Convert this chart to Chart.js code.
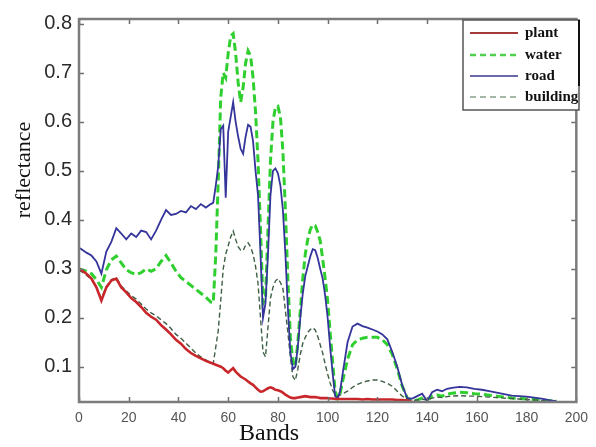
<!DOCTYPE html>
<html>
<head>
<meta charset="utf-8">
<script src="https://cdn.jsdelivr.net/npm/chart.js@4/dist/chart.umd.min.js"></script>
<style>
  html, body { margin: 0; padding: 0; background: #ffffff; }
  #wrap { position: relative; width: 596px; height: 447px; }
</style>
</head>
<body>
<div id="wrap"><canvas id="c" width="596" height="447"></canvas></div>
<script>
// Spectral band indices at which the reflectance curves are sampled
const bands = [
  0, 1, 3, 5, 7, 9, 11, 13, 15, 17, 19, 21, 23, 25, 27, 29, 31, 33, 35, 37, 39, 41, 43, 45, 47, 49, 51, 53,
  54, 55, 56, 57, 58, 59, 60, 61, 62, 63,
  64, 65, 66, 67, 68, 69, 70, 71, 72, 73,
  74, 75, 76, 77, 78, 79, 80, 81, 82, 83,
  84, 85, 86, 87, 88, 89, 90, 91, 92, 93,
  94, 95, 96, 97, 98, 99, 100, 101, 102, 103,
  104, 105, 106,
  108, 110, 112, 114, 116, 118, 120, 122, 124, 126, 128, 130, 132, 134, 136, 138, 140, 142, 144, 146, 148, 150,
  153, 156, 159, 162, 165, 168, 171, 174, 177, 180, 183, 186, 189, 192
];

const plant = [
  0.300, 0.297, 0.290, 0.280, 0.262, 0.235, 0.262, 0.276, 0.280, 0.262, 0.252, 0.240, 0.232, 0.222,
  0.210, 0.202, 0.196, 0.185, 0.176, 0.166, 0.155, 0.147, 0.136, 0.128, 0.122, 0.117, 0.112, 0.108,
  0.106, 0.104, 0.102, 0.100, 0.097, 0.092, 0.088, 0.093, 0.097, 0.090,
  0.085, 0.080, 0.077, 0.074, 0.070, 0.066, 0.063, 0.058, 0.053, 0.049,
  0.050, 0.053, 0.056, 0.058, 0.056, 0.053, 0.052, 0.050, 0.047, 0.043,
  0.040, 0.037, 0.036, 0.036, 0.037, 0.038, 0.039, 0.040, 0.039, 0.038,
  0.038, 0.038, 0.037, 0.036, 0.036, 0.036, 0.036, 0.035, 0.035, 0.034,
  0.034, 0.034, 0.034,
  0.034, 0.034, 0.034, 0.033, 0.034, 0.033, 0.033, 0.033, 0.033, 0.033, 0.032,
  0.032, 0.031, 0.028, 0.022, 0.022, 0.022, 0.022, 0.022, 0.022, 0.022, 0.022,
  0.022, 0.022, 0.022, 0.022, 0.022, 0.022, 0.022, 0.022, 0.022, 0.022, 0.022, 0.022, 0.022, 0.022
];

const water = [
  0.300, 0.298, 0.295, 0.290, 0.278, 0.262, 0.298, 0.318, 0.326, 0.312, 0.298, 0.292, 0.288, 0.292,
  0.300, 0.295, 0.300, 0.315, 0.327, 0.312, 0.295, 0.282, 0.274, 0.266, 0.258, 0.250, 0.242, 0.232,
  0.230, 0.330, 0.480, 0.650, 0.700, 0.690, 0.740, 0.775, 0.780, 0.740,
  0.680, 0.640, 0.670, 0.720, 0.745, 0.735, 0.690, 0.620, 0.520, 0.380,
  0.230, 0.240, 0.380, 0.520, 0.600, 0.630, 0.632, 0.610, 0.540, 0.420,
  0.280, 0.160, 0.110, 0.100, 0.150, 0.215, 0.280, 0.330, 0.360, 0.380,
  0.390, 0.388, 0.375, 0.357, 0.320, 0.280, 0.235, 0.170, 0.110, 0.050,
  0.036, 0.045, 0.070,
  0.115, 0.145, 0.155, 0.158, 0.160, 0.160, 0.160, 0.155, 0.145, 0.125, 0.095,
  0.060, 0.036, 0.030, 0.032, 0.036, 0.032, 0.040, 0.042, 0.040, 0.044, 0.046,
  0.048, 0.047, 0.045, 0.044, 0.042, 0.040, 0.038, 0.036, 0.035, 0.034, 0.033, 0.032, 0.031, 0.030
];

const road = [
  0.343, 0.340, 0.333, 0.327, 0.315, 0.290, 0.335, 0.355, 0.383, 0.372, 0.360, 0.372, 0.365, 0.378,
  0.375, 0.360, 0.378, 0.400, 0.420, 0.410, 0.412, 0.418, 0.415, 0.428, 0.422, 0.432, 0.425, 0.432,
  0.435, 0.470, 0.510, 0.585, 0.592, 0.445, 0.580, 0.610, 0.640, 0.600,
  0.570, 0.545, 0.535, 0.570, 0.594, 0.590, 0.560, 0.500, 0.450, 0.330,
  0.200, 0.230, 0.330, 0.450, 0.500, 0.505, 0.495, 0.470, 0.420, 0.330,
  0.220, 0.130, 0.095, 0.100, 0.140, 0.200, 0.250, 0.285, 0.305, 0.325,
  0.340, 0.338, 0.322, 0.300, 0.280, 0.245, 0.200, 0.140, 0.087, 0.040,
  0.035, 0.050, 0.085,
  0.150, 0.182, 0.188, 0.183, 0.180, 0.176, 0.172, 0.166, 0.156, 0.130, 0.100,
  0.062, 0.036, 0.035, 0.040, 0.045, 0.030, 0.048, 0.053, 0.050, 0.055, 0.057,
  0.059, 0.058, 0.055, 0.053, 0.050, 0.047, 0.044, 0.041, 0.040, 0.039, 0.037, 0.035, 0.032, 0.030
];

const building = [
  0.296, 0.294, 0.287, 0.278, 0.262, 0.240, 0.264, 0.278, 0.282, 0.265, 0.255, 0.245, 0.238, 0.228,
  0.218, 0.210, 0.204, 0.196, 0.188, 0.178, 0.166, 0.158, 0.148, 0.138, 0.128, 0.120, 0.114, 0.108,
  0.107, 0.140, 0.174, 0.235, 0.300, 0.330, 0.347, 0.365, 0.377, 0.360,
  0.345, 0.338, 0.337, 0.348, 0.353, 0.345, 0.330, 0.305, 0.270, 0.200,
  0.130, 0.120, 0.180, 0.240, 0.262, 0.275, 0.280, 0.272, 0.260, 0.215,
  0.170, 0.120, 0.080, 0.072, 0.095, 0.125, 0.148, 0.160, 0.170, 0.176,
  0.180, 0.175, 0.162, 0.145, 0.128, 0.105, 0.085, 0.067, 0.052, 0.043,
  0.040, 0.042, 0.045,
  0.050, 0.058, 0.064, 0.068, 0.071, 0.073, 0.073, 0.070, 0.066, 0.060, 0.050,
  0.040, 0.033, 0.031, 0.032, 0.034, 0.032, 0.036, 0.038, 0.037, 0.039, 0.040,
  0.041, 0.040, 0.040, 0.039, 0.038, 0.037, 0.036, 0.035, 0.034, 0.033, 0.032, 0.031, 0.030, 0.030
];

// Axis tick labels
const xTicks = [0, 20, 40, 60, 80, 100, 120, 140, 160, 180, 200];
const yTicks = [0.1, 0.2, 0.3, 0.4, 0.5, 0.6, 0.7, 0.8];

const seriesNames = ['plant', 'water', 'road', 'building'];

const toPoints = vals => bands.map((b, i) => ({ x: b, y: vals[i] }));

// Line styles per series
const styles = {
  plant:    { color: '#c8262a', key: '#a23a3a', width: 2.6, dash: [] },
  water:    { color: '#2fcf2f', key: '#4ed04e', width: 3.0, dash: [8, 4] },
  road:     { color: '#34349a', key: '#6a6aa8', width: 1.8, dash: [] },
  building: { color: '#3f5f45', key: '#a7b7a7', width: 1.4, dash: [5, 3] }
};

const drawOrder = { plant: 0, road: 1, building: 2, water: 3 };

const seriesValues = { plant, water, road, building };

const datasets = seriesNames.map(name => ({
  label: name,
  data: toPoints(seriesValues[name]),
  borderColor: styles[name].color,
  borderWidth: styles[name].width,
  borderDash: styles[name].dash,
  pointRadius: 0,
  tension: 0,
  fill: false,
  order: drawOrder[name]
}));

// Frame, inward tick marks, axis titles and legend box
const framePlugin = {
  id: 'frame',
  afterDatasetsDraw(chart) {
    const { ctx, chartArea: a, scales } = chart;
    ctx.save();
    // tick marks pointing into the plot on all four sides
    ctx.strokeStyle = '#6e6e6e';
    ctx.lineWidth = 1.5;
    ctx.beginPath();
    yTicks.forEach(v => {
      const y = Math.round(scales.y.getPixelForValue(v)) + 0.5;
      ctx.moveTo(a.left, y); ctx.lineTo(a.left + 5, y);
      ctx.moveTo(a.right, y); ctx.lineTo(a.right - 5, y);
    });
    xTicks.forEach(v => {
      const x = Math.round(scales.x.getPixelForValue(v)) + 0.5;
      ctx.moveTo(x, a.bottom); ctx.lineTo(x, a.bottom - 5);
      ctx.moveTo(x, a.top); ctx.lineTo(x, a.top + 5);
    });
    ctx.stroke();
    // plot frame
    ctx.strokeStyle = '#7c7c7c';
    ctx.lineWidth = 2.5;
    ctx.strokeRect(a.left, a.top, a.right - a.left, a.bottom - a.top);

    // axis titles
    ctx.fillStyle = '#111111';
    ctx.textAlign = 'center';
    ctx.textBaseline = 'middle';
    ctx.font = '24px "Liberation Serif", "Times New Roman", serif';
    ctx.fillText('Bands', 269, 434);
    ctx.font = '22px "Liberation Serif", "Times New Roman", serif';
    ctx.save();
    ctx.translate(24, 170);
    ctx.rotate(-Math.PI / 2);
    ctx.fillText('reflectance', 0, 0);
    ctx.restore();

    // legend
    const lx = 463, ly = 20, lw = 116, lh = 90;
    ctx.fillStyle = '#ffffff';
    ctx.fillRect(lx, ly, lw, lh);
    ctx.strokeStyle = '#555555';
    ctx.lineWidth = 1.5;
    ctx.strokeRect(lx, ly, lw, lh);
    ctx.strokeStyle = '#111111';
    ctx.lineWidth = 2;
    ctx.beginPath();
    ctx.moveTo(lx + lw, ly); ctx.lineTo(lx + lw, ly + 66);
    ctx.stroke();
    const rows = [33, 55, 76, 97];
    ctx.font = 'bold 15px "Liberation Serif", "Times New Roman", serif';
    ctx.textAlign = 'left';
    ctx.textBaseline = 'middle';
    seriesNames.forEach((name, i) => {
      const st = styles[name];
      ctx.strokeStyle = st.key;
      ctx.lineWidth = name === 'water' ? 2.4 : 2.2;
      ctx.setLineDash(st.dash.length ? [6, 4] : []);
      ctx.beginPath();
      ctx.moveTo(470, rows[i]); ctx.lineTo(518, rows[i]);
      ctx.stroke();
      ctx.setLineDash([]);
      ctx.fillStyle = '#111111';
      ctx.fillText(name, 525, rows[i]);
    });
    ctx.restore();
  }
};

new Chart(document.getElementById('c'), {
  type: 'line',
  data: { datasets },
  options: {
    responsive: false,
    animation: false,
    devicePixelRatio: 1,
    layout: { padding: { top: 17, right: 18, left: 0, bottom: 0 } },
    plugins: { legend: { display: false }, tooltip: { enabled: false } },
    scales: {
      x: {
        type: 'linear',
        min: 0,
        max: 200,
        grid: { display: false, drawTicks: false },
        border: { display: false },
        afterBuildTicks: s => { s.ticks = xTicks.map(v => ({ value: v })); },
        afterFit: s => { s.height = 45; },
        ticks: {
          padding: 8,
          color: '#555555',
          font: { family: '"Liberation Sans", Arial, sans-serif', size: 14 },
          maxRotation: 0,
          callback: v => String(v)
        }
      },
      y: {
        type: 'linear',
        min: 0.028,
        max: 0.81,
        grid: { display: false, drawTicks: false },
        border: { display: false },
        afterBuildTicks: s => { s.ticks = yTicks.map(v => ({ value: v })); },
        afterFit: s => { s.width = 79; },
        ticks: {
          padding: 7,
          color: '#2a2a2a',
          font: { family: '"Liberation Sans", Arial, sans-serif', size: 20 },
          callback: v => Number(v).toFixed(1)
        }
      }
    }
  },
  plugins: [framePlugin]
});
</script>
</body>
</html>
